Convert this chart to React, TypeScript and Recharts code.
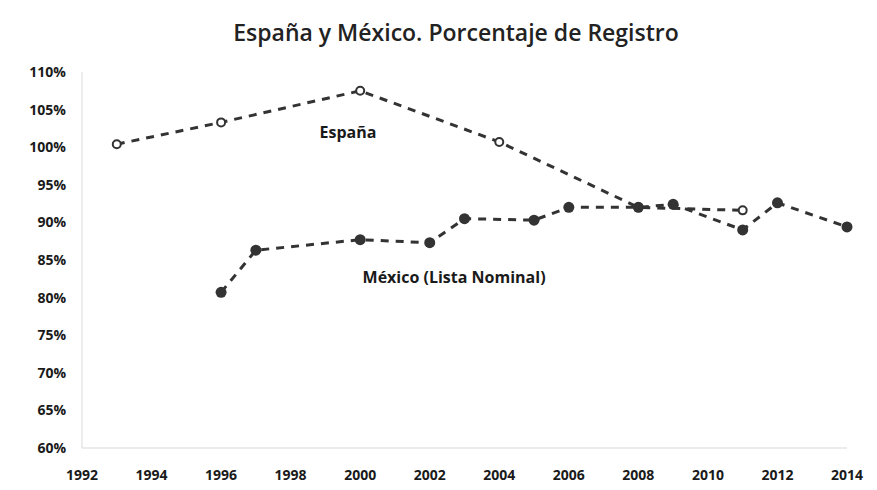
import { LineChart, Line, XAxis, YAxis, ReferenceDot } from "recharts";

// Spain: registered voters as % of voting-age population
const espanaYears = [1993, 1996, 2000, 2004, 2008, 2011];
const espanaValues = [100.4, 103.3, 107.5, 100.7, 92.0, 91.6];

// Mexico: Lista Nominal as % of voting-age population
const mexicoYears = [1996, 1997, 2000, 2002, 2003, 2005, 2006, 2008, 2009, 2011, 2012, 2014];
const mexicoValues = [80.7, 86.3, 87.7, 87.3, 90.5, 90.3, 92.0, 92.0, 92.4, 89.0, 92.6, 89.4];

const yearTicks = [1992, 1994, 1996, 1998, 2000, 2002, 2004, 2006, 2008, 2010, 2012, 2014];
const pctTicks = [60, 65, 70, 75, 80, 85, 90, 95, 100, 105, 110];

const espana = espanaYears.map((year, i) => ({ year, value: espanaValues[i] }));
const mexico = mexicoYears.map((year, i) => ({ year, value: mexicoValues[i] }));

const FONT = "'Open Sans', 'Noto Sans', sans-serif";
const INK = "#333333";

const tickStyle = { fontFamily: FONT, fontSize: 14, fontWeight: 700, fill: "#1a1a1a" };
const labelStyle = { fontFamily: FONT, fontSize: 16, fontWeight: 700, fill: "#1a1a1a" };

// markers drawn solid (the line's dash pattern would otherwise leak into them)
const OpenDot = (props: any) => {
  const { cx, cy, key } = props;
  if (cx == null || cy == null) return null;
  return <circle key={key} cx={cx} cy={cy} r={4} fill="#fff" stroke={INK} strokeWidth={2} />;
};

const FilledDot = (props: any) => {
  const { cx, cy, key } = props;
  if (cx == null || cy == null) return null;
  return <circle key={key} cx={cx} cy={cy} r={5.5} fill={INK} stroke="none" />;
};

export default function App() {
  return (
    <div
      style={{
        position: "absolute",
        left: 0,
        top: 0,
        width: 877,
        height: 490,
        background: "#fff",
        fontFamily: FONT,
      }}
    >
      <div
        style={{
          position: "absolute",
          top: 16,
          left: 0,
          width: 912,
          textAlign: "center",
          fontSize: 23,
          fontWeight: 600,
          color: "#222",
        }}
      >
        España y México. Porcentaje de Registro
      </div>
      <LineChart
        width={877}
        height={490}
        margin={{ top: 72, right: 30, bottom: 12, left: 0 }}
      >
        <XAxis
          type="number"
          dataKey="year"
          domain={[1992, 2014]}
          ticks={yearTicks}
          allowDuplicatedCategory={false}
          height={30}
          tickLine={false}
          tickMargin={16}
          stroke="#d9d9d9"
          tick={tickStyle}
        />
        <YAxis
          type="number"
          domain={[60, 110]}
          ticks={pctTicks}
          width={82}
          tickLine={false}
          tickMargin={10}
          stroke="#d9d9d9"
          tick={tickStyle}
          tickFormatter={(v) => `${v}%`}
        />
        <Line
          data={espana}
          dataKey="value"
          type="linear"
          stroke={INK}
          strokeWidth={3}
          strokeDasharray="8 7"
          dot={OpenDot}
          isAnimationActive={false}
        />
        <Line
          data={mexico}
          dataKey="value"
          type="linear"
          stroke={INK}
          strokeWidth={3}
          strokeDasharray="8 7"
          dot={FilledDot}
          isAnimationActive={false}
        />
        <ReferenceDot
          x={1999.65}
          y={102.0}
          r={0}
          stroke="none"
          fill="none"
          label={{ value: "España", position: "center", ...labelStyle }}
        />
        <ReferenceDot
          x={2002.7}
          y={82.7}
          r={0}
          stroke="none"
          fill="none"
          label={{ value: "México (Lista Nominal)", position: "center", ...labelStyle }}
        />
      </LineChart>
    </div>
  );
}
